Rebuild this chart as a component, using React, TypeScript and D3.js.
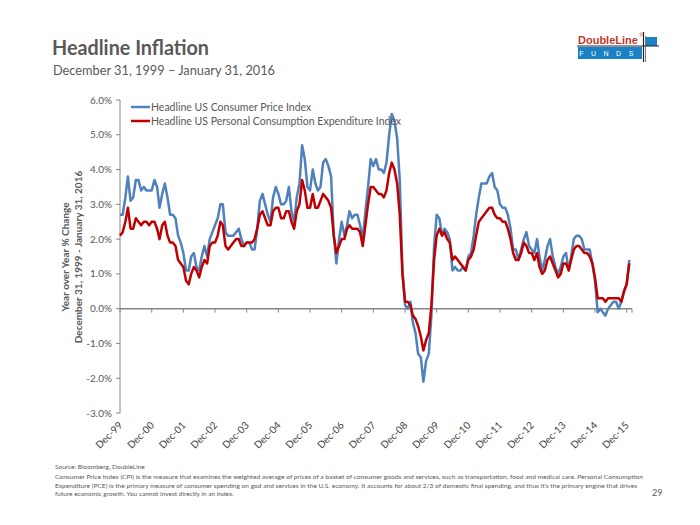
import React from "react";
import * as d3 from "d3";

// Monthly YoY % change, Dec 1999 .. Jan 2016
const cpi: number[] = [
  2.7,
  2.7, 3.2, 3.8, 3.1, 3.2, 3.7, 3.7, 3.4, 3.5, 3.4, 3.4, 3.4,
  3.7, 3.5, 2.9, 3.3, 3.6, 3.2, 2.7, 2.7, 2.6, 2.1, 1.9, 1.6,
  1.1, 1.1, 1.5, 1.6, 1.2, 1.1, 1.5, 1.8, 1.5, 2.0, 2.2, 2.4,
  2.6, 3.0, 3.0, 2.2, 2.1, 2.1, 2.1, 2.2, 2.3, 2.0, 1.8, 1.9,
  1.9, 1.7, 1.7, 2.3, 3.1, 3.3, 3.0, 2.7, 2.5, 3.2, 3.5, 3.3,
  3.0, 3.0, 3.1, 3.5, 2.8, 2.5, 3.2, 3.6, 4.7, 4.3, 3.5, 3.4,
  4.0, 3.6, 3.4, 3.5, 4.2, 4.3, 4.1, 3.8, 2.1, 1.3, 2.0, 2.5,
  2.1, 2.4, 2.8, 2.6, 2.7, 2.7, 2.4, 2.0, 2.8, 3.5, 4.3, 4.1,
  4.3, 4.0, 4.0, 3.9, 4.2, 5.0, 5.6, 5.4, 4.9, 3.7, 1.1, 0.1,
  0.0, 0.2, -0.4, -0.7, -1.3, -1.4, -2.1, -1.5, -1.3, -0.2, 1.8, 2.7,
  2.6, 2.1, 2.3, 2.2, 2.0, 1.1, 1.2, 1.1, 1.1, 1.2, 1.1, 1.5,
  1.6, 2.1, 2.7, 3.2, 3.6, 3.6, 3.6, 3.8, 3.9, 3.5, 3.4, 3.0,
  2.9, 2.9, 2.7, 2.3, 1.7, 1.7, 1.4, 1.7, 2.0, 2.2, 1.8, 1.7,
  1.6, 2.0, 1.5, 1.1, 1.4, 1.8, 2.0, 1.5, 1.2, 1.0, 1.2, 1.5,
  1.6, 1.1, 1.5, 2.0, 2.1, 2.1, 2.0, 1.7, 1.7, 1.7, 1.3, 0.8,
  -0.1, 0.0, -0.1, -0.2, 0.0, 0.1, 0.2, 0.2, 0.0, 0.2, 0.5, 0.7,
  1.4,
];

const pce: number[] = [
  2.1,
  2.2, 2.5, 2.9, 2.3, 2.3, 2.6, 2.5, 2.4, 2.5, 2.5, 2.4, 2.5,
  2.5, 2.3, 2.0, 2.4, 2.5, 2.1, 1.9, 1.9, 1.8, 1.4, 1.3, 1.2,
  0.8, 0.7, 1.0, 1.2, 1.1, 0.9, 1.2, 1.4, 1.3, 1.8, 1.9, 1.9,
  2.1, 2.5, 2.4, 1.8, 1.7, 1.8, 1.9, 2.0, 2.0, 1.8, 1.8, 1.9,
  1.9, 1.9, 2.0, 2.3, 2.7, 2.8, 2.6, 2.4, 2.4, 2.8, 2.9, 2.9,
  2.6, 2.6, 2.8, 2.8, 2.5, 2.3, 2.8, 3.0, 3.7, 3.4, 2.9, 2.9,
  3.3, 2.9, 2.9, 3.1, 3.3, 3.2, 3.1, 2.9, 2.1, 1.6, 1.8, 2.0,
  2.0, 2.3, 2.4, 2.3, 2.3, 2.3, 2.2, 1.8, 2.4, 3.0, 3.5, 3.5,
  3.4, 3.3, 3.3, 3.2, 3.4, 3.9, 4.2, 4.0, 3.6, 2.7, 1.0, 0.2,
  0.2, 0.1, -0.2, -0.3, -0.5, -0.8, -1.2, -0.9, -0.7, 0.1, 1.4, 2.1,
  2.3, 2.1, 2.2, 2.0, 1.9, 1.4, 1.5, 1.4, 1.3, 1.2, 1.1, 1.4,
  1.5, 1.7, 2.1, 2.5, 2.6, 2.7, 2.8, 2.9, 2.9, 2.7, 2.6, 2.6,
  2.5, 2.5, 2.3, 2.0, 1.6, 1.4, 1.4, 1.6, 1.9, 1.8, 1.6, 1.6,
  1.4, 1.6, 1.2, 1.0, 1.1, 1.4, 1.5, 1.3, 1.1, 0.9, 1.0, 1.3,
  1.3, 1.1, 1.4, 1.7, 1.8, 1.8, 1.7, 1.6, 1.6, 1.5, 1.3, 0.9,
  0.3, 0.3, 0.3, 0.2, 0.3, 0.3, 0.3, 0.3, 0.3, 0.2, 0.5, 0.7,
  1.3,
];

const yTicks: number[] = [-3, -2, -1, 0, 1, 2, 3, 4, 5, 6];
const xTickLabels: string[] = [
  "Dec-99", "Dec-00", "Dec-01", "Dec-02", "Dec-03", "Dec-04", "Dec-05", "Dec-06", "Dec-07",
  "Dec-08", "Dec-09", "Dec-10", "Dec-11", "Dec-12", "Dec-13", "Dec-14", "Dec-15",
];
const seriesNames: string[] = [
  "Headline US Consumer Price Index",
  "Headline US Personal Consumption Expenditure Index",
];
const seriesColors: string[] = ["#4f81bd", "#c00000"];
const title = "Headline Inflation";
const subtitle = "December 31, 1999 \u2013 January 31, 2016";
const yLabel1 = "Year over Year % Change";
const yLabel2 = "December 31, 1999 - January 31, 2016";
const footnotes: string[] = [
  "Source: Bloomberg, DoubleLine",
  "Consumer Price Index (CPI) is the measure that examines the weighted average of prices of a basket of consumer goods and services, such as transportation, food and medical care. Personal Consumption",
  "Expenditure (PCE) is the primary measure of consumer spending on god and services in the U.S. economy. It accounts for about 2/3 of domestic final spending, and thus it\u2019s the primary engine that drives",
  "future economic growth. You cannot invest directly in an index.",
];
const pageNumber = "29";

const FONT = "Lato, 'Open Sans', sans-serif";

export default function App() {
  const W = 700;
  const H = 525;
  const start = new Date(Date.UTC(1999, 11, 1));
  const dates = cpi.map((_, i) => d3.utcMonth.offset(start, i));
  const x = d3
    .scaleUtc()
    .domain([start, d3.utcMonth.offset(start, 194)])
    .range([120, 632]);
  const y = d3.scaleLinear().domain([-3, 6]).range([413, 100]);
  const tickDates = xTickLabels.map((_, k) => d3.utcMonth.offset(start, 12 * k));
  const line = d3
    .line<number>()
    .x((_, i) => x(dates[i]))
    .y((d) => y(d));
  const fmt = (v: number) => v.toFixed(1) + "%";
  const axisColor = "#868686";
  const textGrey = "#595959";

  return (
    <svg
      width={W}
      height={H}
      style={{ position: "absolute", left: 0, top: 0, background: "#fff" }}
      fontFamily={FONT}
    >
      <rect x={0} y={0} width={W} height={H} fill="#fff" />
      {/* Title */}
      <text x={52} y={55} fontSize={21} fontWeight={700} fill={textGrey} textLength={157} lengthAdjust="spacingAndGlyphs">
        {title}
      </text>
      <text x={53} y={75} fontSize={14} fill={textGrey} textLength={222} lengthAdjust="spacingAndGlyphs">
        {subtitle}
      </text>

      {/* Logo */}
      <g>
        <text x={578} y={44} fontSize={11} fontWeight={700} fill="#c0392b" fontFamily="'Liberation Sans', Arial, sans-serif">
          DoubleLine
        </text>
        <text x={639.5} y={37} fontSize={4.5} fill="#c0392b" fontFamily="'Liberation Sans', Arial, sans-serif">®</text>
        <rect x={578} y={47} width={64} height={12} fill="#1a82c4" />
        <text x={610} y={56} fontSize={7} fill="#fff" textAnchor="middle" letterSpacing={7.5} fontFamily="'Liberation Sans', Arial, sans-serif">
          FUNDS
        </text>
        <rect x={646} y={37} width={11} height={9} fill="#1a82c4" />
        <line x1={577} x2={659} y1={46} y2={46} stroke="#222" strokeWidth={1.2} />
        <line x1={643.5} x2={643.5} y1={32} y2={62} stroke="#222" strokeWidth={1.2} />
        <line x1={645.5} x2={645.5} y1={36} y2={62} stroke="#222" strokeWidth={0.6} />
      </g>

      {/* Y axis label */}
      <g transform="translate(69,257) rotate(-90)">
        <text x={0} y={0} textAnchor="middle" fontSize={10} fontWeight={700} fill={textGrey}>
          {yLabel1}
        </text>
        <text x={0} y={12.5} textAnchor="middle" fontSize={10} fontWeight={700} fill={textGrey}>
          {yLabel2}
        </text>
      </g>

      {/* Y axis */}
      <line x1={120} x2={120} y1={y(6)} y2={y(-3)} stroke={axisColor} strokeWidth={1} />
      {yTicks.map((t) => (
        <g key={t}>
          <line x1={116} x2={120} y1={y(t)} y2={y(t)} stroke={axisColor} strokeWidth={1} />
          <text x={112} y={y(t) + 3.5} textAnchor="end" fontSize={10} fill={textGrey}>
            {fmt(t)}
          </text>
        </g>
      ))}

      {/* X axis at zero */}
      <line x1={120} x2={632} y1={y(0)} y2={y(0)} stroke={axisColor} strokeWidth={1.5} />
      {tickDates.map((d, k) => (
        <line key={k} x1={x(d)} x2={x(d)} y1={y(0)} y2={y(0) + 4} stroke={axisColor} strokeWidth={1} />
      ))}
      <line x1={632} x2={632} y1={y(0)} y2={y(0) + 4} stroke={axisColor} strokeWidth={1} />
      {tickDates.map((d, k) => (
        <text
          key={k}
          transform={`translate(${x(d) + 3},${426}) rotate(-45)`}
          textAnchor="end"
          fontSize={10}
          fill="#404040"
        >
          {xTickLabels[k]}
        </text>
      ))}

      {/* Series */}
      <path d={line(cpi) || ""} fill="none" stroke={seriesColors[0]} strokeWidth={2.5} strokeLinejoin="round" />
      <path d={line(pce) || ""} fill="none" stroke={seriesColors[1]} strokeWidth={2.5} strokeLinejoin="round" />

      {/* Legend */}
      {seriesNames.map((n, i) => (
        <g key={n} transform={`translate(131,${107 + i * 14})`}>
          <line x1={0} x2={19} y1={0} y2={0} stroke={seriesColors[i]} strokeWidth={2.5} />
          <text x={20} y={3.5} fontSize={10.5} fill={textGrey}>
            {n}
          </text>
        </g>
      ))}

      {/* Footnotes */}
      <text x={55} y={469} fontSize={6.5} fill={textGrey}>{footnotes[0]}</text>
      <text x={55} y={479} fontSize={6.5} fill={textGrey} textLength={588} lengthAdjust="spacingAndGlyphs">{footnotes[1]}</text>
      <text x={55} y={487.5} fontSize={6.5} fill={textGrey} textLength={582} lengthAdjust="spacingAndGlyphs">{footnotes[2]}</text>
      <text x={55} y={496} fontSize={6.5} fill={textGrey}>{footnotes[3]}</text>
      <text x={652} y={496} fontSize={9} fill={textGrey}>{pageNumber}</text>
    </svg>
  );
}
